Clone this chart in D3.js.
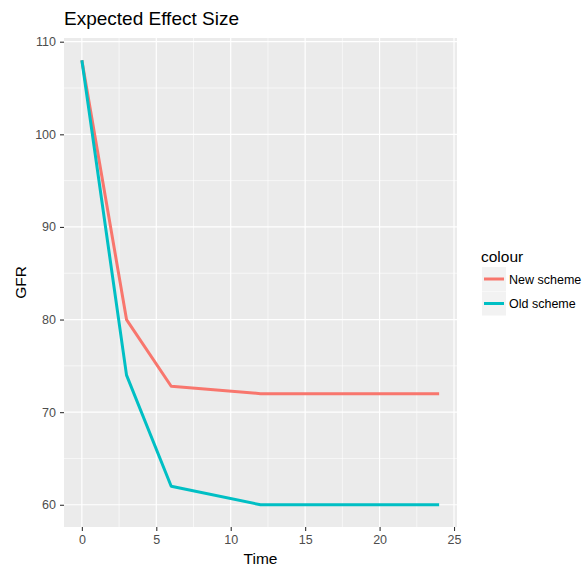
<!DOCTYPE html>
<html><head><meta charset="utf-8">
<script src="https://cdn.jsdelivr.net/npm/d3@7"></script>
<style>body{margin:0;background:#fff}text{font-family:"Liberation Sans",Arial,sans-serif}</style>
</head><body><svg id="c" width="587" height="566"></svg>
<script>
const times = [0, 3, 6, 12, 24];
const newScheme = [108, 80, 72.8, 72, 72];
const oldScheme = [108, 74, 62, 60, 60];
const seriesNames = ["New scheme", "Old scheme"];
const seriesColors = ["#F8766D", "#00BFC4"];
const xTicks = [0, 5, 10, 15, 20, 25];
const yTicks = [60, 70, 80, 90, 100, 110];
const xMinor = [2.5, 7.5, 12.5, 17.5, 22.5];
const yMinor = [65, 75, 85, 95, 105];

const svg = d3.select("#c");
const L = 64, R = 457, T = 38, B = 527;
const x = d3.scaleLinear().domain([-1.2, 25.2]).range([L, R]);
const y = d3.scaleLinear().domain([57.6, 110.4]).range([B, T]);

svg.append("rect").attr("x", L).attr("y", T).attr("width", R - L).attr("height", B - T).attr("fill", "#EBEBEB");
const g = svg.append("g");
g.selectAll(".xm").data(xMinor).join("line").attr("x1", d => x(d)).attr("x2", d => x(d)).attr("y1", T).attr("y2", B).attr("stroke", "#fff").attr("stroke-width", 0.6);
g.selectAll(".ym").data(yMinor).join("line").attr("y1", d => y(d)).attr("y2", d => y(d)).attr("x1", L).attr("x2", R).attr("stroke", "#fff").attr("stroke-width", 0.6);
g.selectAll(".xM").data(xTicks).join("line").attr("x1", d => x(d)).attr("x2", d => x(d)).attr("y1", T).attr("y2", B).attr("stroke", "#fff").attr("stroke-width", 1.2);
g.selectAll(".yM").data(yTicks).join("line").attr("y1", d => y(d)).attr("y2", d => y(d)).attr("x1", L).attr("x2", R).attr("stroke", "#fff").attr("stroke-width", 1.2);

const line = d3.line().x(d => x(d[0])).y(d => y(d[1]));
[newScheme, oldScheme].forEach((vals, i) => {
  svg.append("path").datum(times.map((t, j) => [t, vals[j]])).attr("d", line)
    .attr("fill", "none").attr("stroke", seriesColors[i]).attr("stroke-width", 3).attr("stroke-linejoin", "round");
});

const xAxis = d3.axisBottom(x).tickValues(xTicks).tickSize(4).tickPadding(4);
const xa = svg.append("g").attr("transform", `translate(0,${B})`).call(xAxis);
const yAxis = d3.axisLeft(y).tickValues(yTicks).tickSize(4).tickPadding(4);
const ya = svg.append("g").attr("transform", `translate(${L},0)`).call(yAxis);
[xa, ya].forEach(a => {
  a.select(".domain").remove();
  a.selectAll(".tick line").attr("stroke", "#333").attr("stroke-width", 1.1);
  a.selectAll(".tick text").attr("fill", "#4D4D4D").style("font-size", "12.5px").style("font-family", "Liberation Sans, Arial, sans-serif");
});

svg.append("text").attr("x", (L + R) / 2).attr("y", 564).attr("text-anchor", "middle").attr("font-size", 15.5).attr("fill", "#000").text("Time");
svg.append("text").attr("transform", `translate(26,${(T + B) / 2}) rotate(-90)`).attr("text-anchor", "middle").attr("font-size", 15.5).attr("fill", "#000").text("GFR");
svg.append("text").attr("x", L).attr("y", 25).attr("font-size", 19).attr("fill", "#000").text("Expected Effect Size");

const lg = svg.append("g");
lg.append("text").attr("x", 481).attr("y", 262).attr("font-size", 15.5).attr("fill", "#000").text("colour");
seriesNames.forEach((n, i) => {
  const yy = 267 + i * 24.5;
  lg.append("rect").attr("x", 482).attr("y", yy).attr("width", 24).attr("height", 24).attr("fill", "#F2F2F2");
  lg.append("line").attr("x1", 484).attr("x2", 504).attr("y1", yy + 12).attr("y2", yy + 12).attr("stroke", seriesColors[i]).attr("stroke-width", 3);
  lg.append("text").attr("x", 509).attr("y", yy + 16.5).attr("font-size", 12.5).attr("fill", "#000").text(n);
});
</script></body></html>
